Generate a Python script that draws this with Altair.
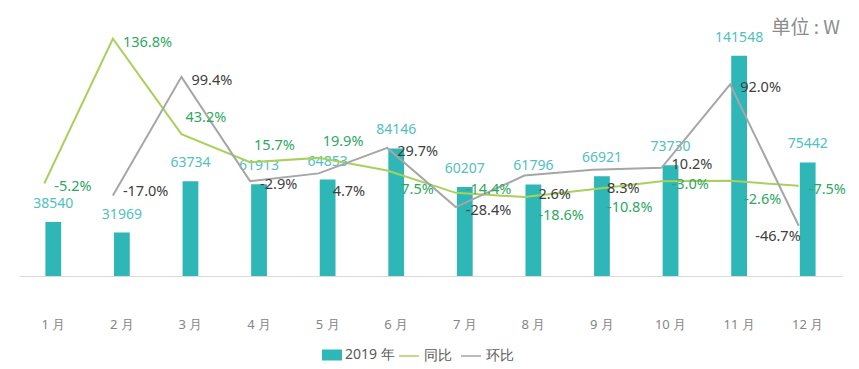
import altair as alt
import pandas as pd

months = ["1 月", "2 月", "3 月", "4 月", "5 月", "6 月", "7 月", "8 月", "9 月", "10 月", "11 月", "12 月"]
sales = [38540, 31969, 63734, 61913, 64853, 84146, 60207, 61796, 66921, 73730, 141548, 75442]
yoy = [-5.2, 136.8, 43.2, 15.7, 19.9, 7.5, -14.4, -18.6, -10.8, -3.0, -2.6, -7.5]
mom = [None, -17.0, 99.4, -2.9, 4.7, 29.7, -28.4, 2.6, 8.3, 10.2, 92.0, -46.7]

# label placement style per point
# r = right, a = above-right, u = slightly above-right, b = below-right, l = below-left
yoy_place = ["r", "r", "a", "a", "a", "b", "u", "b", "b", "r", "b", "r"]
mom_place = [None, "u", "r", "r", "b", "r", "r", "b", "b", "u", "r", "l"]

TEAL = "#2fb6b6"
GREEN_LINE = "#a9d05c"
GREEN_TEXT = "#2ea85f"
GRAY_LINE = "#a6a6a6"
GRAY_TEXT = "#404040"
FONT = "Noto Sans"

bars_df = pd.DataFrame({"month": months, "sales": sales, "series": "2019 年"})
rows = []
for m, a, pa, b, pb in zip(months, yoy, yoy_place, mom, mom_place):
    rows.append({"month": m, "pct": a, "series": "同比", "place": pa})
    if b is not None:
        rows.append({"month": m, "pct": b, "series": "环比", "place": pb})
lines_df = pd.DataFrame(rows)

x_enc = alt.X("month:N", sort=months, title=None,
              scale=alt.Scale(paddingInner=0.77, paddingOuter=0.385),
              axis=alt.Axis(labelAngle=0, ticks=False, domainColor="#d9d9d9",
                            labelColor="#858585", labelFontSize=13, labelFont=FONT,
                            labelPadding=42, grid=False))

bar_scale = alt.Scale(domain=[5000, 170000])
bars = alt.Chart(bars_df).mark_bar(color=TEAL, clip=True).encode(
    x=x_enc,
    y=alt.Y("sales:Q", axis=None, scale=bar_scale),
    fill=alt.Fill("series:N", title=None,
                  scale=alt.Scale(domain=["2019 年"], range=[TEAL]),
                  legend=alt.Legend(orient="none", legendX=303, legendY=335,
                                    symbolType="M-1,-0.55H1V0.55H-1Z", symbolSize=400,
                                    symbolStrokeWidth=0,
                                    labelFontSize=14, labelColor="#595959", labelFont=FONT,
                                    labelOffset=3)),
)
bar_text = alt.Chart(bars_df).mark_text(
    dy=-18, fontSize=14, font=FONT, color="#52c0c0", baseline="middle"
).encode(
    x=alt.X("month:N", sort=months),
    y=alt.Y("sales:Q", axis=None, scale=bar_scale),
    text=alt.Text("sales:Q", format="d"),
)

yscale = alt.Scale(domain=[-96, 165])
lines = alt.Chart(lines_df).mark_line(strokeWidth=2, xOffset=-9).encode(
    x=alt.X("month:N", sort=months),
    y=alt.Y("pct:Q", axis=None, scale=yscale),
    stroke=alt.Stroke("series:N", title=None,
                      scale=alt.Scale(domain=["同比", "环比"], range=[GREEN_LINE, GRAY_LINE]),
                      legend=alt.Legend(orient="none", legendX=379, legendY=335,
                                        direction="horizontal",
                                        symbolType="stroke", symbolSize=400,
                                        symbolStrokeWidth=1.5, columnPadding=6,
                                        labelFontSize=14, labelColor="#595959", labelFont=FONT,
                                        labelOffset=4)),
)

placements = {"r": ("left", 10, 4), "a": ("left", 4, -16), "u": ("left", 10, -3),
              "b": ("left", 14, 19), "l": ("right", 2, 11)}
text_layers = []
for key, (al, ddx, ddy) in placements.items():
    text_layers.append(
        alt.Chart(lines_df).transform_filter(alt.datum.place == key).transform_calculate(
            label="replace(format(datum.pct, '.1f'), '\u2212', '-') + '%'"
        ).mark_text(
            align=al, baseline="middle", xOffset=-9, dx=ddx, dy=ddy, fontSize=14.5, font=FONT
        ).encode(
            x=alt.X("month:N", sort=months),
            y=alt.Y("pct:Q", axis=None, scale=yscale),
            text="label:N",
            color=alt.Color("series:N", legend=None,
                            scale=alt.Scale(domain=["同比", "环比"], range=[GREEN_TEXT, GRAY_TEXT])),
        )
    )

unit = alt.Chart(pd.DataFrame({"t": ["单位 : W"]})).mark_text(
    align="right", baseline="middle", fontSize=19, font="Noto Sans CJK SC", color="#8c8c8c"
).encode(x=alt.value(821), y=alt.value(18), text="t:N")

left = alt.layer(bars, bar_text)
right = alt.layer(lines, *text_layers, unit)

chart = alt.layer(left, right).resolve_scale(
    y="independent", color="independent"
).properties(
    width=823, height=266,
    padding={"left": 11, "top": 2, "right": 5, "bottom": 5},
).configure_view(stroke=None)

chart.save("out.html", embed_options={"renderer": "svg", "actions": False})
